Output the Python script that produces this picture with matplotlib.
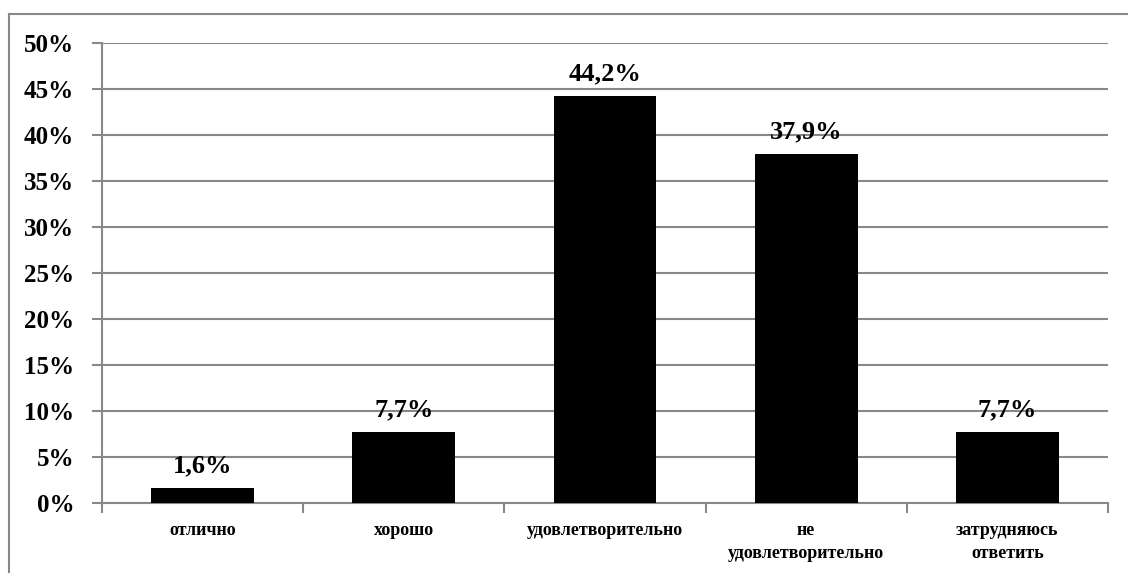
import numpy as np
import matplotlib.pyplot as plt
from matplotlib.lines import Line2D
from matplotlib.ticker import FuncFormatter

categories = ['отлично', 'хорошо', 'удовлетворительно', 'не\nудовлетворительно', 'затрудняюсь\nответить']
values = [1.6, 7.7, 44.2, 37.9, 7.7]
labels = ['1,6%', '7,7%', '44,2%', '37,9%', '7,7%']

plt.rcParams['font.family'] = 'Liberation Serif'
plt.rcParams['font.weight'] = 'bold'

grid_color = '#888888'

fig = plt.figure(figsize=(11.28, 5.73), dpi=100)
ax = fig.add_axes([102 / 1128, 70 / 573, 1006 / 1128, 460 / 573])

x = np.arange(len(categories))
ax.bar(x, values, width=0.51, color='black', zorder=3)

for xi, v, lab in zip(x, values, labels):
    ax.annotate(lab, (xi, v), xytext=(0, 8), textcoords='offset points',
                ha='center', va='bottom', fontsize=19, fontweight='bold')

ax.set_xlim(-0.5, len(categories) - 0.5)
ax.set_ylim(0, 50)
ax.set_yticks(np.arange(0, 51, 5))
ax.yaxis.set_major_formatter(FuncFormatter(lambda v, p: f'{int(v)}%'))
ax.yaxis.grid(True, color=grid_color, linewidth=1.5, zorder=0)

ax.set_xticks(x)
ax.set_xticklabels(categories, fontsize=13, fontweight='bold', linespacing=1.4)
ax.set_xticks(np.arange(-0.5, len(categories)), minor=True)
ax.tick_params(axis='x', which='major', length=0, pad=14)
ax.tick_params(axis='x', which='minor', length=7, color=grid_color, width=1.5)
ax.tick_params(axis='y', length=7, color=grid_color, width=1.5, labelsize=18, pad=13)

for s in ['top', 'right']:
    ax.spines[s].set_visible(False)
for s in ['left', 'bottom']:
    ax.spines[s].set_color(grid_color)
    ax.spines[s].set_linewidth(1.5)

# рамка диаграммы
fig.add_artist(Line2D([9 / 1128, 1.0], [1 - 14 / 573, 1 - 14 / 573], color=grid_color, linewidth=1.5))
fig.add_artist(Line2D([9 / 1128, 9 / 1128], [0, 1 - 14 / 573], color=grid_color, linewidth=1.5))

fig.savefig('out.png', dpi=100)
